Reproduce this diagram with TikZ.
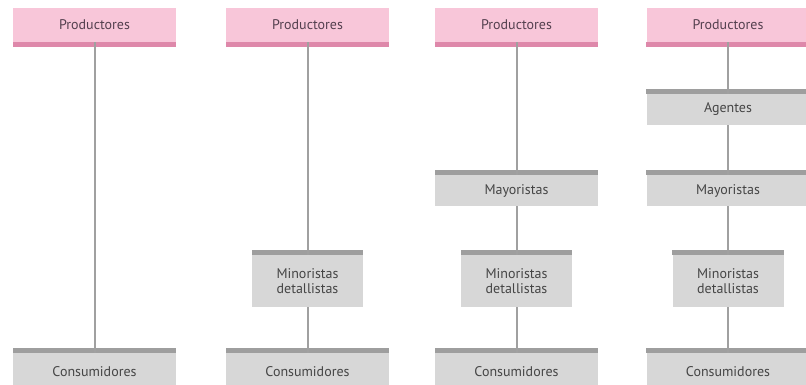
\documentclass[tikz,border=0pt]{standalone}
\usepackage{fontspec}
\setmainfont{PT Sans}
\definecolor{prodfill}{HTML}{F8C6D9}
\definecolor{prodband}{HTML}{DE88AA}
\definecolor{prodtext}{HTML}{54404F}
\definecolor{boxfill}{HTML}{D7D7D7}
\definecolor{boxband}{HTML}{9E9E9E}
\definecolor{boxtext}{HTML}{454545}
\definecolor{linkgray}{HTML}{A0A0A0}

\tikzset{
  prod/.style={fill=prodfill, minimum width=163pt, minimum height=34pt, inner sep=0pt,
    text=prodtext, font=\fontsize{14}{15}\selectfont},
  stage/.style={fill=boxfill, minimum width=163pt, minimum height=31pt, inner sep=0pt,
    text=boxtext, font=\fontsize{14}{15}\selectfont, align=center},
  narrow/.style={stage, minimum width=111pt, minimum height=52pt},
  link/.style={draw=linkgray, line width=2pt}
}

\begin{document}
\begin{tikzpicture}[x=1pt,y=-1pt]
    \useasboundingbox (0,0) rectangle (806,385);

    % top row and bottom row, one per channel
    \foreach \cx [count=\i] in {94.5,307.5,516.5,728} {
      \node[prod] (p\i) at (\cx,25) {Productores};
      \node[stage] (c\i) at (\cx,372) [minimum height=38pt] {Consumidores};
    }

    % intermediaries
    \node[narrow] (m2) at (307.5,281) {Minoristas\\detallistas};
    \node[stage] (w3) at (516.5,190.5) {Mayoristas};
    \node[narrow] (m3) at (516.5,281) {Minoristas\\detallistas};
    \node[stage] (a4) at (728,109.5) {Agentes};
    \node[stage] (w4) at (728,190.5) {Mayoristas};
    \node[narrow] (m4) at (728,281) {Minoristas\\detallistas};

    % coloured bands
    \foreach \n in {p1,p2,p3,p4}
      \fill[prodband] (\n.south west) rectangle ([yshift=-5pt]\n.south east);
    \foreach \n in {c1,c2,c3,c4,m2,m3,m4,w3,w4,a4}
      \fill[boxband] (\n.north west) rectangle ([yshift=5pt]\n.north east);

    \draw[link] (p1) -- (c1);
    \draw[link] (p2) -- (m2) -- (c2);
    \draw[link] (p3) -- (w3) -- (m3) -- (c3);
    \draw[link] (p4) -- (a4) -- (w4) -- (m4) -- (c4);

\end{tikzpicture}
\end{document}
